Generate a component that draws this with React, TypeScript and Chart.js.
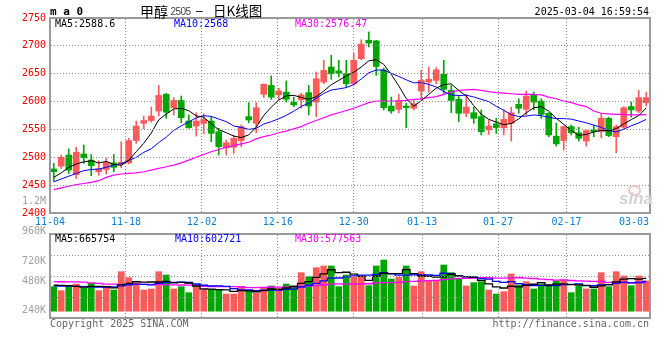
import React, { useEffect, useRef } from "react";
import { Chart, registerables } from "chart.js";

Chart.register(...registerables);

// ---------- data ----------
const dates = [
  "11-04","11-05","11-06","11-07","11-08","11-11","11-12","11-13","11-14","11-15",
  "11-18","11-19","11-20","11-21","11-22","11-25","11-26","11-27","11-28","11-29",
  "12-02","12-03","12-04","12-05","12-06","12-09","12-10","12-11","12-12","12-13",
  "12-16","12-17","12-18","12-19","12-20","12-23","12-24","12-25","12-26","12-27",
  "12-30","12-31","01-02","01-03","01-06","01-07","01-08","01-09","01-10",
  "01-13","01-14","01-15","01-16","01-17","01-20","01-21","01-22","01-23","01-24",
  "01-27","02-05","02-06","02-07","02-10","02-11","02-12","02-13","02-14",
  "02-17","02-18","02-19","02-20","02-21","02-24","02-25","02-26","02-27","02-28",
  "03-03","03-04",
];

const xTickDates = ["11-04","11-18","12-02","12-16","12-30","01-13","01-27","02-17","03-03"];
const xGridDates = ["11-18","12-02","12-16","12-30","01-13","01-27","02-17"];
const priceTicks = [2400, 2450, 2500, 2550, 2600, 2650, 2700, 2750];

const opens = [2479,2484,2504,2469,2506,2495,2474,2478,2490,2488,2490,2530,2561,2566,2583,2613,2589,2602,2565,2556,2561,2565,2546,2517,2518,2530,2573,2561,2613,2629,2612,2617,2599,2603,2616,2599,2635,2662,2655,2650,2632,2677,2710,2709,2657,2592,2586,2592,2588,2619,2635,2638,2649,2620,2604,2579,2580,2573,2549,2560,2553,2561,2595,2586,2613,2601,2579,2538,2530,2555,2544,2529,2549,2546,2570,2537,2554,2591,2583,2598];
const highs = [2489,2504,2515,2518,2522,2505,2494,2498,2505,2528,2534,2565,2574,2590,2629,2615,2607,2610,2576,2580,2578,2573,2552,2531,2540,2558,2598,2598,2632,2646,2624,2637,2608,2615,2629,2653,2674,2683,2674,2674,2686,2711,2725,2710,2660,2608,2613,2597,2602,2656,2662,2661,2674,2629,2611,2613,2590,2585,2567,2570,2585,2590,2605,2619,2617,2605,2580,2561,2556,2558,2554,2549,2558,2579,2572,2558,2591,2599,2620,2617];
const lows = [2457,2480,2471,2462,2489,2467,2468,2470,2474,2481,2488,2525,2551,2563,2574,2570,2576,2562,2552,2538,2542,2528,2504,2504,2507,2519,2562,2544,2607,2604,2604,2599,2591,2588,2576,2573,2632,2640,2644,2626,2629,2675,2698,2647,2585,2579,2580,2553,2585,2604,2617,2632,2615,2580,2564,2573,2561,2540,2541,2543,2540,2529,2579,2576,2585,2570,2537,2520,2513,2540,2529,2520,2537,2535,2537,2508,2552,2572,2580,2592];
const closes = [2474,2500,2477,2509,2499,2485,2479,2491,2482,2491,2530,2556,2566,2574,2611,2581,2602,2571,2553,2565,2568,2543,2519,2526,2534,2555,2567,2589,2631,2608,2619,2604,2594,2612,2592,2641,2656,2650,2651,2632,2674,2703,2705,2663,2589,2583,2602,2589,2596,2638,2640,2657,2622,2602,2579,2590,2570,2546,2556,2553,2568,2580,2588,2610,2599,2577,2540,2524,2555,2544,2534,2548,2546,2570,2539,2555,2589,2585,2607,2607];

const ma5 = [2464,2472,2482,2488,2491.8,2494.0,2489.8,2492.6,2487.2,2485.6,2494.6,2510.0,2525.0,2543.4,2567.4,2577.6,2586.8,2587.8,2583.6,2574.4,2571.8,2560.0,2549.6,2544.2,2538.0,2535.4,2540.2,2554.2,2575.2,2590.0,2602.8,2610.2,2611.2,2607.4,2604.2,2608.6,2619.0,2630.2,2638.0,2646.0,2652.6,2662.0,2673.0,2675.4,2666.8,2648.6,2628.4,2605.2,2591.8,2601.6,2613.0,2624.0,2630.6,2631.8,2620.0,2610.0,2592.6,2577.4,2568.2,2563.0,2558.6,2560.6,2569.0,2579.8,2589.0,2590.8,2582.8,2570.0,2559.0,2548.0,2539.4,2541.0,2545.4,2548.4,2547.4,2551.6,2559.8,2567.6,2575.0,2588.6];
const ma10 = [2456,2461,2466,2471,2476,2478,2479,2482,2486,2488.7,2494.3,2499.9,2508.8,2515.3,2526.5,2536.1,2548.4,2556.4,2563.5,2570.9,2574.7,2573.4,2568.7,2563.9,2556.2,2553.6,2550.1,2551.9,2559.7,2564.0,2569.1,2575.2,2582.7,2591.3,2597.1,2605.7,2614.6,2620.7,2622.7,2625.1,2630.6,2640.5,2651.6,2656.7,2656.4,2650.6,2645.2,2639.1,2633.6,2634.2,2630.8,2626.2,2617.9,2611.8,2610.8,2611.5,2608.3,2604.0,2600.0,2591.5,2584.3,2576.6,2573.2,2574.0,2576.0,2574.7,2571.7,2569.5,2569.4,2568.5,2565.1,2561.9,2557.7,2553.7,2547.7,2545.5,2550.4,2556.5,2561.7,2568.0];
const ma30 = [2442,2445,2448,2451,2453,2455,2458,2464,2468,2470,2471,2472,2474,2477,2480,2483,2486,2490,2495,2500,2505,2510,2514,2518,2521,2524,2527,2533,2537,2540,2544,2547,2551,2555,2561,2566,2571,2576,2580,2584,2588,2593,2598,2601,2601,2601,2601,2602,2604,2605,2607,2609,2613,2617,2620,2621,2622,2620,2618,2616,2615,2614,2613,2613,2613,2612,2608,2605,2601,2598,2594,2591,2583,2579,2578,2577,2577,2576,2576,2576.47];

const volumes = [498000,417000,512000,552000,464000,566000,417000,485000,430000,802000,681000,600000,430000,451000,802000,735000,451000,498000,376000,498000,430000,444000,444000,349000,349000,498000,417000,363000,464000,512000,464000,552000,512000,782000,701000,884000,918000,918000,498000,735000,688000,688000,518000,918000,1039000,654000,688000,918000,512000,802000,613000,613000,938000,782000,647000,512000,579000,600000,430000,349000,396000,755000,532000,600000,451000,545000,532000,613000,633000,376000,518000,451000,451000,782000,498000,802000,715000,518000,715000,613000];
const volMa5 = [530000,525000,520000,505000,489000,502000,502000,497000,472000,540000,563000,600000,589000,593000,593000,604000,574000,587000,572000,512000,451000,449000,438000,433000,403000,417000,411000,395000,418000,451000,444000,471000,501000,564000,602000,686000,759000,841000,784000,791000,751000,705000,625000,709000,770000,763000,763000,843000,762000,715000,707000,692000,696000,750000,719000,698000,692000,624000,554000,494000,471000,506000,492000,526000,547000,577000,532000,548000,555000,540000,534000,518000,486000,516000,540000,597000,650000,663000,650000,665754];
const volMa10 = [515000,512000,510000,505000,500000,495000,490000,490000,495000,514000,533000,551000,543000,533000,566000,583000,587000,588000,583000,552000,527000,512000,513000,503000,457000,434000,430000,417000,426000,427000,430000,441000,448000,491000,527000,565000,615000,671000,674000,696000,719000,732000,733000,747000,780000,757000,734000,734000,736000,743000,735000,728000,770000,756000,717000,703000,692000,660000,652000,606000,585000,599000,558000,540000,520000,524000,519000,520000,541000,543000,556000,525000,517000,535000,540000,566000,584000,574000,583000,602721];
const volMa30 = [600000,598000,596000,594000,590000,575000,566000,550000,548000,546000,545000,545000,544000,543000,543000,535000,533000,532000,531000,530000,505000,500000,498000,497000,497000,496000,480000,478000,482000,491000,490000,494000,494000,502000,510000,520000,537000,551000,553000,551000,552000,554000,557000,573000,581000,578000,586000,600000,604000,614000,620000,626000,642000,656000,666000,667000,672000,680000,679000,673000,671000,678000,679000,673000,664000,653000,640000,630000,635000,623000,617000,609000,607000,603000,585000,590000,591000,577000,584000,577563];

const volAxisLabels = ["1.2M", "960K", "720K", "480K", "240K"];

// ---------- styles ----------
const MONO = '"DejaVu Sans Mono", monospace';
const CJK = '"Noto Sans CJK SC", sans-serif';
const UP = "#ff5a5a";
const DOWN = "#00a600";
const GRID = "#8c8c8c";
const FRAME = "#9a9a9a";
const XLABEL = "#0a7fd2";
const W = 660;

const volMin = -138000;
const volMax = 1567000;

// dotted grid lines placed with the chart's own y and xg scales
const dotGridPlugin = {
  id: "dotgrid",
  afterDraw(chart: any) {
    const { ctx, chartArea: a } = chart;
    const ys = chart.scales.y;
    const xs = chart.scales.xg;
    const yVals: number[] = (ys.ticks || []).map((t: any) => t.value);
    const xVals: number[] = (xs.ticks || []).map((t: any) => t.value);
    ctx.save();
    ctx.globalAlpha = 1;
    ctx.globalCompositeOperation = "source-over";
    ctx.fillStyle = GRID;
    for (const v of yVals) {
      const py = Math.floor(ys.getPixelForValue(v));
      if (py <= a.top + 1 || py >= a.bottom - 1) continue;
      for (let x = Math.ceil(a.left) + 1; x < a.right - 1; x += 3) ctx.fillRect(x, py, 1, 1);
    }
    for (const v of xVals) {
      const px = Math.floor(xs.getPixelForValue(v));
      for (let y = Math.ceil(a.top) + 1; y < a.bottom - 1; y += 3) ctx.fillRect(px, y, 1, 1);
    }
    ctx.restore();
  },
};

const framePlugin = {
  id: "frame",
  afterDraw(chart: any) {
    const { ctx, chartArea: a } = chart;
    ctx.save();
    ctx.strokeStyle = FRAME;
    ctx.lineWidth = 2;
    ctx.strokeRect(a.left, a.top, a.right - a.left, a.bottom - a.top);
    ctx.restore();
  },
};

const xLabelPlugin = {
  id: "xlabels",
  afterDraw(chart: any) {
    const { ctx, chartArea: a } = chart;
    const s = chart.scales.xg;
    ctx.save();
    ctx.font = `10px ${MONO}`;
    ctx.fillStyle = XLABEL;
    ctx.textAlign = "center";
    ctx.textBaseline = "middle";
    xTickDates.forEach((d) => {
      const idx = dates.indexOf(d);
      const w = ctx.measureText(d).width;
      let px = s.getPixelForValue(idx);
      px = Math.min(px, a.right - w / 2 - 1);
      ctx.fillText(d, px, a.bottom + 9.5);
    });
    ctx.restore();
  },
};

function Txt(props: {
  x: number; y: number; text: string; color?: string; size?: number;
  family?: string; weight?: string; align?: "left" | "right"; italic?: boolean; spacing?: number;
}) {
  const { x, y, text, color = "#000", size = 10, family = MONO, weight = "normal", align = "left", italic = false, spacing = 0 } = props;
  const style: any = {
    position: "absolute",
    top: y - size / 2,
    font: `${italic ? "italic " : ""}${weight} ${size}px ${family}`,
    lineHeight: `${size}px`,
    letterSpacing: `${spacing}px`,
    color,
    whiteSpace: "nowrap",
  };
  if (align === "right") style.right = W - x; else style.left = x;
  return <div style={style}>{text}</div>;
}

export default function App() {
  const priceRef = useRef<HTMLCanvasElement>(null);
  const volRef = useRef<HTMLCanvasElement>(null);

  useEffect(() => {
    const gridIdx = xGridDates.map((d) => dates.indexOf(d));
    const last = dates.length - 1;
    const colors = closes.map((c, i) => (c >= opens[i] ? UP : DOWN));

    const line = (label: string, data: number[], color: string, width: number, stepped: any = false) => ({
      type: "line" as const,
      label,
      data,
      borderColor: color,
      borderWidth: width,
      pointRadius: 0,
      tension: 0,
      stepped,
      order: 0,
    });

    const gridAxis = (height: number) => ({
      type: "linear",
      axis: "x",
      position: "bottom",
      offset: false,
      min: 0,
      max: last,
      afterBuildTicks: (s: any) => { s.ticks = gridIdx.map((v) => ({ value: v })); },
      afterFit: (s: any) => { s.height = height; },
      ticks: { display: false },
      grid: { display: false, drawTicks: false, offset: false },
      border: { display: false },
    });

    const c1 = new Chart(priceRef.current as HTMLCanvasElement, {
      type: "bar",
      data: {
        labels: dates,
        datasets: [
          line("MA5", ma5, "#000000", 1),
          line("MA10", ma10, "#0000ff", 1),
          line("MA30", ma30, "#ff00ff", 1.2),
          {
            type: "bar",
            label: "wick",
            data: lows.map((l, i) => [l, highs[i]]),
            backgroundColor: colors,
            barThickness: 1,
            grouped: false,
            order: 2,
          } as any,
          {
            type: "bar",
            label: "body",
            data: opens.map((o, i) => [o, closes[i]]),
            backgroundColor: colors,
            barThickness: 6,
            minBarLength: 1,
            grouped: false,
            order: 1,
          } as any,
        ],
      },
      options: {
        animation: false,
        responsive: false,
        events: [],
        layout: { padding: { top: 18, right: 10, left: 0, bottom: 0 } },
        plugins: { legend: { display: false }, tooltip: { enabled: false } },
        scales: {
          x: { type: "category", display: false, offset: true },
          xg: gridAxis(19),
          y: {
            type: "linear",
            position: "left",
            min: 2400,
            max: 2750,
            afterBuildTicks: (s: any) => { s.ticks = priceTicks.map((v) => ({ value: v })); },
            afterFit: (s: any) => { s.width = 50; },
            ticks: {
              color: "#ee0000",
              font: { family: MONO, size: 10 },
              padding: 4,
              callback: (v: any) => String(v),
            },
            grid: { display: false, drawTicks: false },
            border: { display: false },
          },
        } as any,
      },
      plugins: [dotGridPlugin, framePlugin, xLabelPlugin],
    });

    const c2 = new Chart(volRef.current as HTMLCanvasElement, {
      type: "bar",
      data: {
        labels: dates,
        datasets: [
          line("MA5", volMa5, "#000000", 1.3, "middle"),
          line("MA10", volMa10, "#0000ff", 1.3, "middle"),
          line("MA30", volMa30, "#ff00ff", 1.3, "middle"),
          {
            type: "bar",
            label: "volume",
            data: volumes,
            backgroundColor: colors,
            barThickness: 6,
            order: 1,
          } as any,
        ],
      },
      options: {
        animation: false,
        responsive: false,
        events: [],
        layout: { padding: { top: 8, right: 10, left: 0, bottom: 12 } },
        plugins: { legend: { display: false }, tooltip: { enabled: false } },
        scales: {
          x: { type: "category", display: false, offset: true },
          xg: gridAxis(0),
          y: {
            type: "linear",
            position: "left",
            min: volMin,
            max: volMax,
            afterBuildTicks: (s: any) => {
              s.ticks = [1, 2, 3].map((k) => ({ value: volMin + (k * (volMax - volMin)) / 4 }));
            },
            afterFit: (s: any) => { s.width = 50; },
            ticks: { display: false },
            grid: { display: false, drawTicks: false },
            border: { display: false },
          },
        } as any,
      },
      plugins: [dotGridPlugin, framePlugin],
    });

    return () => {
      c1.destroy();
      c2.destroy();
    };
  }, []);

  const volLabelY = [201, 231, 261, 281, 310];

  return (
    <div style={{ position: "absolute", left: 0, top: 0, width: W, height: 360, background: "#fff", overflow: "hidden" }}>
      <canvas ref={priceRef} width={W} height={232} style={{ position: "absolute", left: 0, top: 0 }} />
      <canvas ref={volRef} width={W} height={104} style={{ position: "absolute", left: 0, top: 226 }} />

      {/* header */}
      <Txt x={50} y={11.5} text="m a 0" size={11} weight="bold" />
      <Txt x={140} y={10.5} text="甲醇" size={14} family={CJK} />
      <Txt x={170.5} y={11.5} text="2505" size={10} spacing={-0.6} family='"Liberation Sans", sans-serif' color="#444" />
      <Txt x={196} y={11} text="–" size={12} family='"Liberation Sans", sans-serif' />
      <Txt x={213} y={10.5} text="日K线图" size={13.5} family={CJK} />
      <Txt x={649} y={11.7} text="2025-03-04 16:59:54" align="right" />

      {/* price MA legend */}
      <Txt x={55} y={24} text="MA5:2588.6" color="#000" />
      <Txt x={174} y={24} text="MA10:2568" color="#0000ff" />
      <Txt x={295} y={24} text="MA30:2576.47" color="#ff00ff" />

      {/* volume axis labels */}
      {volAxisLabels.map((t, i) => (
        <Txt key={t} x={46} y={volLabelY[i]} text={t} color="#a0a0a0" align="right" />
      ))}

      {/* volume MA legend */}
      <Txt x={55} y={238.7} text="MA5:665754" color="#000" />
      <Txt x={175} y={238.7} text="MA10:602721" color="#0000ff" />
      <Txt x={295} y={238.7} text="MA30:577563" color="#ff00ff" />

      {/* watermark */}
      <div style={{ position: "absolute", left: 628, top: 185, width: 9, height: 7, borderRadius: "50%", border: "2px solid #f2c4c4" }} />
      <Txt x={619} y={198} text="sina" size={17} weight="bold" italic family='"Liberation Sans", sans-serif' color="#d2d2d2" />

      {/* footer */}
      <Txt x={50} y={324} text="Copyright 2025 SINA.COM" color="#666" />
      <Txt x={649} y={324} text="http://finance.sina.com.cn" color="#666" align="right" />
    </div>
  );
}
